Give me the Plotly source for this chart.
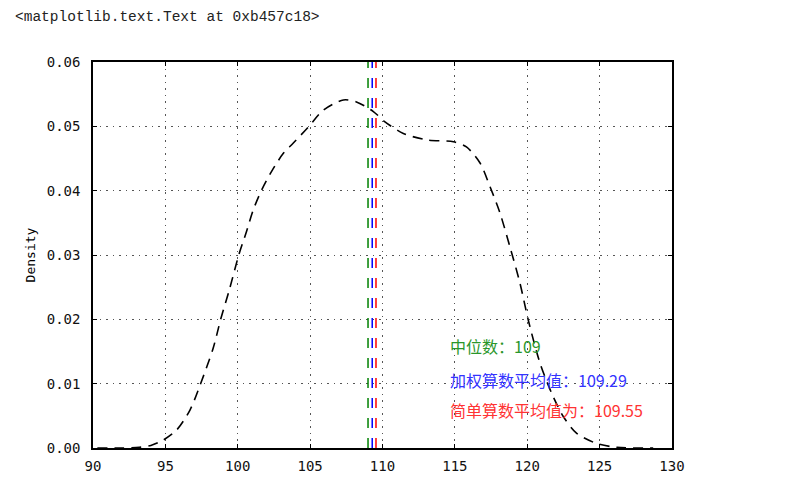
import plotly.graph_objects as go

# KDE curve
curve_x = [90.3, 92.0, 93.2, 94.0, 94.86, 95.78, 96.7, 97.4, 98.3, 98.82, 99.42, 100.07,
           100.6, 101.07, 101.65, 102.34, 103.15, 103.84, 104.88, 105.9, 107.3, 108.2,
           109.37, 110.17, 111.44, 113.05, 114.9, 115.8, 116.74, 117.43, 118.12, 118.8,
           119.5, 120.07, 120.88, 121.69, 122.49, 123.4, 124.8, 126.2, 128.7]
curve_y = [0.0, 0.0, 0.0001, 0.0004, 0.00124, 0.0028, 0.0059, 0.0098, 0.0155, 0.0200,
           0.0246, 0.0300, 0.0336, 0.0370, 0.0401, 0.0430, 0.0458, 0.0474, 0.0499, 0.0525,
           0.0541, 0.0538, 0.0523, 0.0507, 0.0489, 0.0479, 0.0476, 0.0468, 0.0443, 0.0406,
           0.0365, 0.0313, 0.0256, 0.0199, 0.0132, 0.0085, 0.0049, 0.0023, 0.0007, 0.0001,
           0.0]

stat_names = ["中位数：", "加权算数平均值：", "简单算数平均值为："]
stat_values = [109, 109.29, 109.55]
stat_labels = ["109", "109.29", "109.55"]
stat_colors = ["#008000", "#0000ff", "#ff0000"]
text_colors = ["#2a962a", "#3333ff", "#ff3333"]
text_x = 114.5
text_y = [0.0159, 0.01057, 0.0059]

y_range = [0, 0.06]
x_range = [90, 130]

# page body has an 8px margin, so the figure starts at (8, 8)
OFF = 8
L, T, B_PLOT, R_PLOT = 93 - OFF, 62 - OFF, 448 - OFF, 672 - OFF
W, H = 787 - OFF, 484 - OFF

fig = go.Figure()

fig.add_trace(go.Scatter(
    x=curve_x, y=curve_y, mode="lines",
    line=dict(color="black", width=1.6, dash="10px,7px", shape="spline", smoothing=0.8),
    showlegend=False, hoverinfo="skip"))

for v, c in zip(stat_values, stat_colors):
    fig.add_trace(go.Scatter(
        x=[v, v], y=y_range, mode="lines",
        line=dict(color=c, width=1.5, dash="10px,10px"),
        showlegend=False, hoverinfo="skip"))

for name, lab, c, ty in zip(stat_names, stat_labels, text_colors, text_y):
    fig.add_annotation(x=text_x, y=ty, xref="x", yref="y", text=name + lab,
                       showarrow=False, xanchor="left", yanchor="middle",
                       font=dict(family="Noto Sans CJK SC", size=16, color=c))

fig.add_annotation(xref="paper", yref="paper",
                   x=(13 - OFF - L) / (R_PLOT - L), y=(B_PLOT - (17 - OFF)) / (B_PLOT - T),
                   text="<matplotlib.text.Text at 0xb457c18>",
                   showarrow=False, xanchor="left", yanchor="middle",
                   font=dict(family="Liberation Mono", size=14.5, color="#222222"))

axis_common = dict(
    showline=True, linecolor="black", linewidth=1.5, mirror="allticks",
    ticks="inside", ticklen=4, tickcolor="black", tickwidth=1,
    showgrid=True, gridcolor="#555555", griddash="1.5px,5px", gridwidth=1.2,
    zeroline=False,
    tickfont=dict(family="DejaVu Sans Mono", size=14, color="#111111"),
)

fig.update_xaxes(range=x_range, dtick=5, tick0=90, ticklabelstandoff=4, **axis_common)
fig.update_yaxes(range=y_range, dtick=0.01, tickformat=".2f", ticklabelstandoff=8, **axis_common,
                 title=dict(text="Density", font=dict(family="DejaVu Sans Mono", size=13, color="black"),
                            standoff=8))

fig.update_layout(
    width=W, height=H,
    margin=dict(l=L, r=W - R_PLOT, t=T, b=H - B_PLOT, autoexpand=False),
    paper_bgcolor="white", plot_bgcolor="white",
)

fig.write_html("out.html")
